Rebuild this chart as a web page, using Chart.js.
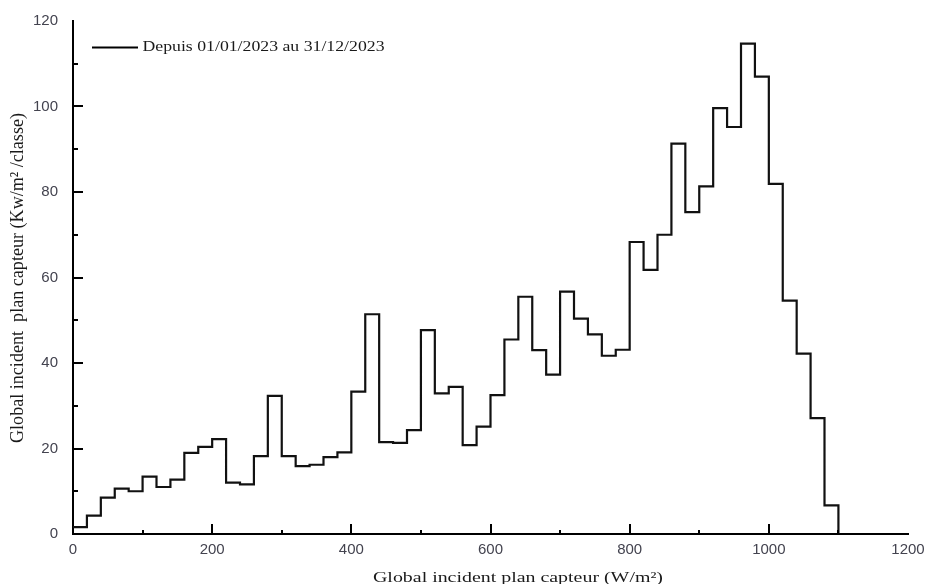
<!DOCTYPE html>
<html>
<head>
<meta charset="utf-8">
<title>Global incident plan capteur</title>
<script src="https://cdn.jsdelivr.net/npm/chart.js"></script>
<style>
  html, body { margin: 0; padding: 0; background: #fff; }
  canvas { display: block; }
</style>
</head>
<body>
<canvas id="histo" width="927" height="584"></canvas>
<script>
// bin start (W/m²), classes of 20 W/m²; the last one closes the histogram
const binStart = [
  0, 20, 40, 60, 80, 100, 120, 140, 160, 180,
  200, 220, 240, 260, 280, 300, 320, 340, 360, 380,
  400, 420, 440, 460, 480, 500, 520, 540, 560, 580,
  600, 620, 640, 660, 680, 700, 720, 740, 760, 780,
  800, 820, 840, 860, 880, 900, 920, 940, 960, 980,
  1000, 1020, 1040, 1060, 1080, 1100
];
// energy per class (Kw/m²/classe)
const energy = [
  1.6, 4.3, 8.5, 10.6, 10.0, 13.4, 11.0, 12.7, 19.0, 20.4,
  22.2, 12.0, 11.6, 18.2, 32.3, 18.2, 15.9, 16.2, 18.0, 19.1,
  33.3, 51.4, 21.5, 21.3, 24.3, 47.7, 32.9, 34.4, 20.8, 25.1,
  32.5, 45.5, 55.5, 43.0, 37.3, 56.7, 50.4, 46.7, 41.7, 43.1,
  68.3, 61.8, 70.0, 91.3, 75.3, 81.3, 99.6, 95.2, 114.7, 107.0,
  81.9, 54.6, 42.2, 27.1, 6.7, 0
];
const seriesLabel = 'Depuis 01/01/2023 au 31/12/2023';
const xTitle = 'Global incident plan capteur (W/m²)';
const yTitle = 'Global incident  plan capteur (Kw/m² /classe)';

const points = binStart.map((x, i) => ({ x: x, y: energy[i] }));

// text in the original picture is stretched sideways, so draw it scaled
function stretchedText(ctx, txt, x, y, font, targetW, sy) {
  ctx.save();
  ctx.font = font;
  const w = ctx.measureText(txt).width;
  ctx.translate(x, y);
  ctx.scale(targetW / w, sy);
  ctx.fillText(txt, 0, 0);
  ctx.restore();
}

const decor = {
  id: 'decor',
  afterDatasetsDraw(chart) {
    const ctx = chart.ctx;
    const xs = chart.scales.x, ys = chart.scales.y;
    const area = chart.chartArea;
    ctx.save();
    ctx.strokeStyle = '#000';
    ctx.lineWidth = 2;
    // inward ticks
    xs.ticks.forEach(t => {
      if (t.value <= xs.min || t.value >= xs.max) return;
      const px = Math.round(xs.getPixelForValue(t.value));
      const len = t.value % 200 === 0 ? 10 : 4;
      ctx.beginPath();
      ctx.moveTo(px, area.bottom);
      ctx.lineTo(px, area.bottom - len);
      ctx.stroke();
    });
    ys.ticks.forEach(t => {
      if (t.value <= ys.min || t.value >= ys.max) return;
      const py = Math.round(ys.getPixelForValue(t.value));
      const len = t.value % 20 === 0 ? 10 : 5;
      ctx.beginPath();
      ctx.moveTo(area.left, py);
      ctx.lineTo(area.left + len, py);
      ctx.stroke();
    });

    // legend
    ctx.beginPath();
    ctx.moveTo(92, 47.5);
    ctx.lineTo(138, 47.5);
    ctx.stroke();
    ctx.fillStyle = '#1a1a1a';
    ctx.textBaseline = 'alphabetic';
    ctx.textAlign = 'left';
    stretchedText(ctx, seriesLabel, 142.5, 50.5, '14px "Liberation Serif"', 242, 1);

    // x title
    stretchedText(ctx, xTitle, 373, 581.5, '15px "Liberation Serif"', 290, 1);

    // y title (rotated)
    ctx.save();
    ctx.translate(23, 443);
    ctx.rotate(-Math.PI / 2);
    stretchedText(ctx, yTitle, 0, 0, '15px "Liberation Serif"', 330, 1.3);
    ctx.restore();
    ctx.restore();
  }
};

new Chart(document.getElementById('histo'), {
  type: 'line',
  data: {
    datasets: [{
      label: seriesLabel,
      data: points,
      stepped: 'before',
      borderColor: '#111',
      borderWidth: 2.2,
      pointRadius: 0,
      fill: false
    }]
  },
  options: {
    responsive: false,
    animation: false,
    layout: { padding: { top: 21, right: 19, left: 0, bottom: 0 } },
    plugins: {
      legend: { display: false },
      tooltip: { enabled: false }
    },
    scales: {
      x: {
        type: 'linear',
        min: 0,
        max: 1200,
        grid: { display: false },
        border: { display: true, color: '#000', width: 2 },
        afterFit: s => { s.height = 50; },
        ticks: {
          stepSize: 100,
          autoSkip: false,
          maxRotation: 0,
          padding: -1,
          color: '#43434f',
          font: { family: '"Liberation Sans", Arial', size: 15 },
          callback: v => (v % 200 === 0 ? v : '')
        }
      },
      y: {
        min: 0,
        max: 120,
        grid: { display: false },
        border: { display: true, color: '#000', width: 2 },
        afterFit: s => { s.width = 73; },
        ticks: {
          stepSize: 10,
          autoSkip: false,
          padding: 7,
          color: '#43434f',
          font: { family: '"Liberation Sans", Arial', size: 15 },
          callback: v => (v % 20 === 0 ? v : '')
        }
      }
    }
  },
  plugins: [decor]
});
</script>
</body>
</html>
